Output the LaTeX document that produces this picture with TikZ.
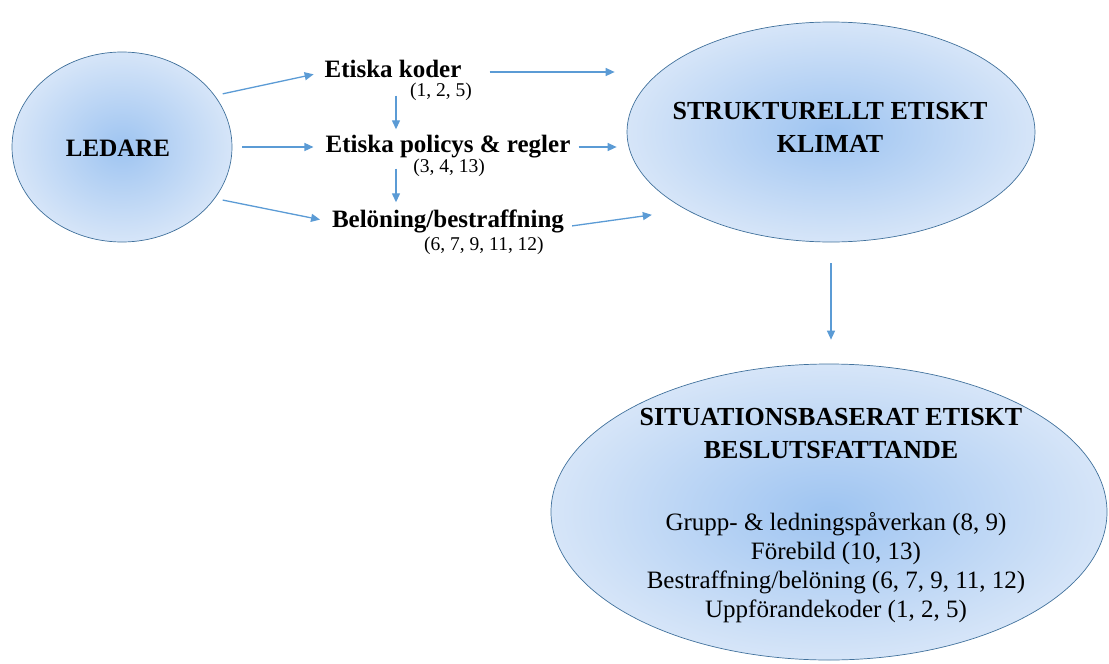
\documentclass[tikz,border=0pt]{standalone}
\usepackage{fontspec}
\setmainfont{Liberation Serif}
\usetikzlibrary{arrows.meta,shapes.geometric}
\definecolor{arrowblue}{RGB}{91,155,213}
\definecolor{ellborder}{RGB}{65,113,156}
\definecolor{ellin}{RGB}{158,196,241}
\definecolor{ellout}{RGB}{214,229,248}
\begin{document}
\begin{tikzpicture}[x=1pt,y=-1pt,
 bubble/.style={ellipse, draw=ellborder, line width=0.7pt, inner color=ellin, outer color=ellout, inner sep=0pt},
 lbl/.style={font=\fontsize{25}{29}\selectfont\bfseries, inner sep=0pt, text height=16pt, text depth=5pt},
 refs/.style={font=\fontsize{19.5}{22}\selectfont, inner sep=0pt},
 title/.style={font=\fontsize{26}{33}\selectfont\bfseries, align=center, inner sep=0pt},
 body/.style={font=\fontsize{25}{29}\selectfont, align=center, inner sep=0pt},
 arr/.style={draw=arrowblue, line width=1.3pt, -{Triangle[length=9pt,width=8pt]}}
]
\useasboundingbox (0,0) rectangle (1109,664);
% ellipses
\node[bubble, minimum width=220pt, minimum height=190pt] (ledare) at (122,147) {};
\node[bubble, minimum width=408pt, minimum height=220pt] (struct) at (831,132) {};
\node[bubble, minimum width=556pt, minimum height=296pt] (sit) at (829,512) {};
% texts
\node[font=\fontsize{25}{29}\selectfont\bfseries, inner sep=0pt] (ledaretxt) at (118,148) {LEDARE};
\node[title] (structtxt) at (830,127) {STRUKTURELLT ETISKT\\KLIMAT};
\node[title] (sittxt) at (831,434) {SITUATIONSBASERAT ETISKT\\BESLUTSFATTANDE};
\node[body] (sitbody) at (836,568) {Grupp- \& ledningspåverkan (8, 9)\\Förebild (10, 13)\\Bestraffning/belöning (6, 7, 9, 11, 12)\\Uppförandekoder (1, 2, 5)};
\node[lbl] (koder) at (393,72) {Etiska koder};
\node[lbl] (policys) at (448,147) {Etiska policys \& regler};
\node[lbl] (belon) at (448,222) {Belöning/bestraffning};
\node[refs] (kref) at (441,92) {(1, 2, 5)};
\node[refs] (pref) at (449,168) {(3, 4, 13)};
\node[refs] (bref) at (484,246) {(6, 7, 9, 11, 12)};
% connectors
\draw[arr, shorten <=8pt, shorten >=11pt] (ledare.29) -- (koder.west);
\draw[arr, shorten <=10pt, shorten >=12pt] (ledare.east) -- (policys.west);
\draw[arr, shorten <=8pt, shorten >=12pt] (ledare.-29) -- (belon.west);
\draw[arr, shorten <=13pt, shorten >=7pt] ([xshift=3pt]koder.south) -- ([xshift=3pt]koder.south |- policys.north);
\draw[arr, shorten <=11pt, shorten >=9pt] ([xshift=3pt]koder.south |- policys.south) -- ([xshift=3pt]koder.south |- belon.north);
\draw[arr, shorten <=28pt, shorten >=12pt] (koder.east) -- (koder.east -| struct.west);
\draw[arr, shorten <=8pt, shorten >=10pt] (policys.east) -- (policys.east -| struct.west);
\draw[arr, shorten <=8pt, shorten >=35pt] ([yshift=-5pt]belon.east) -- (struct.south west);
\draw[arr, shorten <=21pt, shorten >=24pt] (struct.south) -- (struct.south |- sit.north);
\end{tikzpicture}
\end{document}
